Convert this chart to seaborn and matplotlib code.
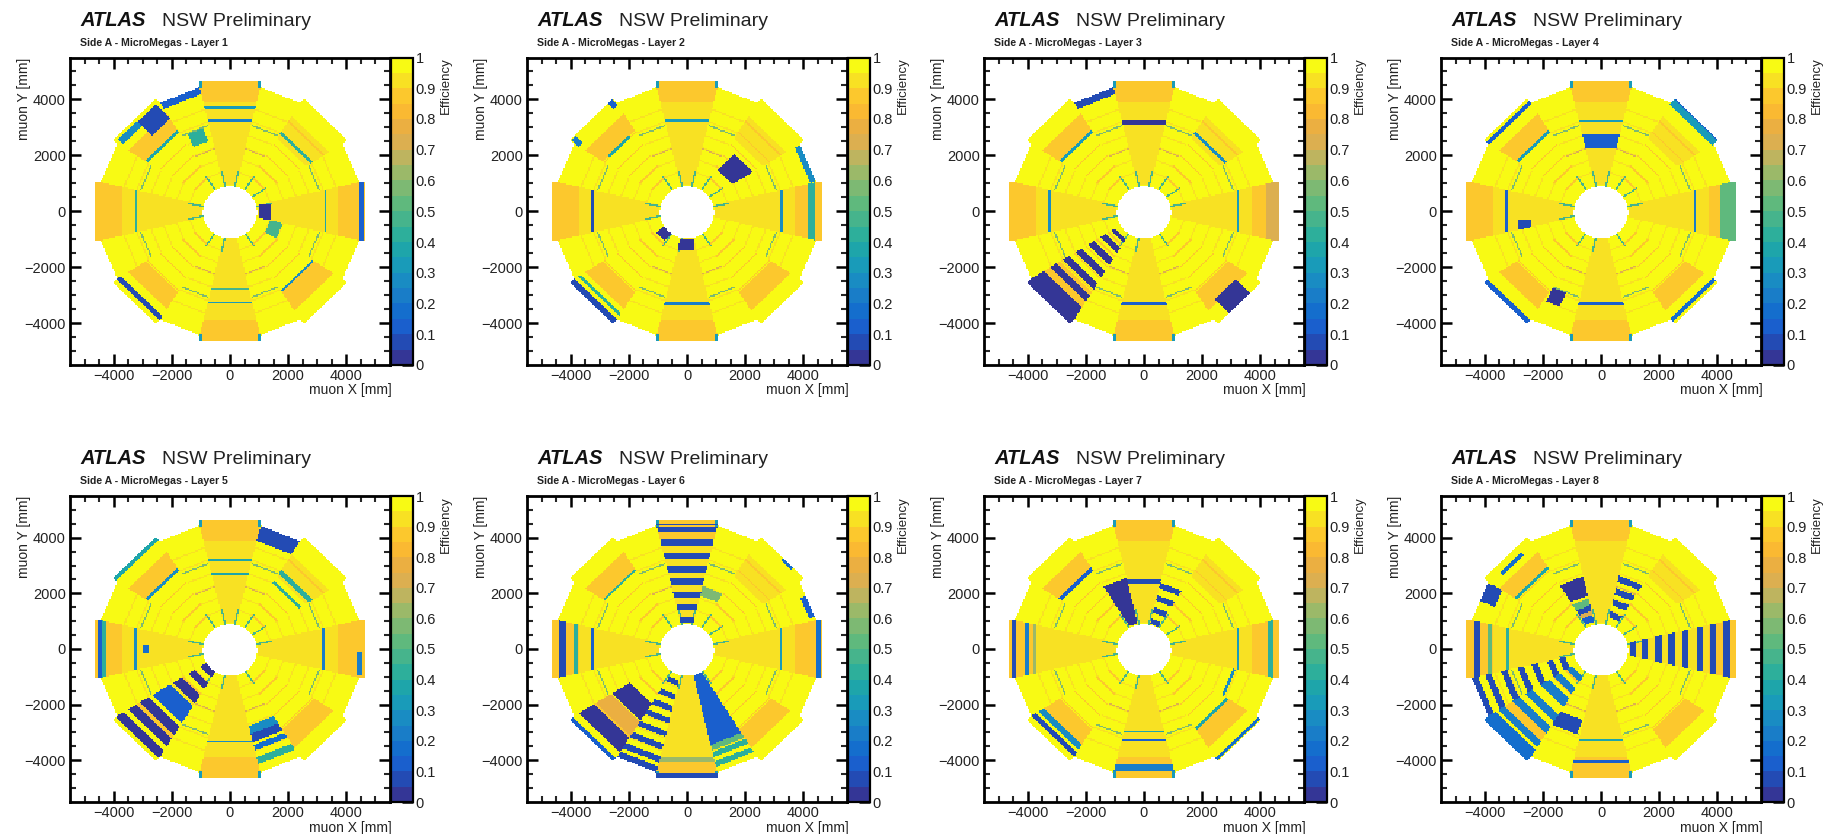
import numpy as np
import matplotlib
matplotlib.use("Agg")
import matplotlib.pyplot as plt
from matplotlib.colors import ListedColormap
from matplotlib.ticker import FixedLocator
import seaborn as sns

# Efficiency, per layer.
# Whole bands: (sector angle, u from, u to, efficiency), u = distance along sector axis in mm
# Patches:     (sector angle, u from, u to, v from, v to, efficiency), v = across the sector in mm
TICK_VALUES = [-4000, -2000, 0, 2000, 4000]
TICK_LABELS = ["\u22124000", "\u22122000", "0", "2000", "4000"]
CBAR_VALUES = [0, 0.1, 0.2, 0.3, 0.4, 0.5, 0.6, 0.7, 0.8, 0.9, 1]
CBAR_LABELS = ["0", "0.1", "0.2", "0.3", "0.4", "0.5", "0.6", "0.7", "0.8", "0.9", "1"]
LAYERS = [1, 2, 3, 4, 5, 6, 7, 8]

PARULA = ["#343696", "#234bb4", "#1a5fcd", "#146ecd", "#197dc8", "#198cc3", "#199bb9", "#1ea5aa",
          "#2daf9b", "#46b48c", "#5fb97d", "#7db973", "#9bb969", "#beb45f", "#dcaf50", "#ebaf41",
          "#fab932", "#fcc82d", "#f8e123", "#f8fa14"]

COMMON_BANDS = [
    (0, 950, 2300, .93), (0, 2300, 3700, .93), (0, 3700, 4650, .87),
    (180, 950, 2300, .93), (180, 2300, 3700, .93), (180, 3700, 4650, .87),
    (90, 950, 3900, .93), (90, 3900, 4650, .88), (270, 950, 3900, .93), (270, 3900, 4650, .88),
    (45, 3000, 3900, .91), (135, 3300, 4000, .88), (225, 3300, 4000, .88), (315, 3300, 4100, .88),
]
COMMON_PATCHES = [
    (22.5, 3100, 3150, -500, 500, .55), (67.5, 3100, 3150, -500, 500, .55), (112.5, 3100, 3150, -500, 500, .55),
    (157.5, 3100, 3150, -500, 500, .55), (202.5, 3100, 3150, -500, 500, .55), (247.5, 3100, 3150, -500, 500, .55),
    (292.5, 3100, 3150, -500, 500, .55), (337.5, 3100, 3150, -500, 500, .55),
    (247.5, 2250, 2290, -400, 400, .7), (292.5, 2250, 2290, -400, 400, .7), (67.5, 2250, 2290, -400, 400, .7),
    (112.5, 2250, 2290, -400, 400, .7),
    (90, 4400, 4650, -1030, -930, .3), (90, 4400, 4650, 930, 1030, .3),
    (270, 4400, 4650, -1030, -930, .3), (270, 4400, 4650, 930, 1030, .3),
]
RING_U = [1400, 1850, 2300, 2750, 3250, 3700]
SPOKE_ANGLES = [11.25, 33.75, 56.25, 78.75, 101.25, 123.75, 168.75, 191.25, 236.25, 258.75, 303.75]

LAYER1_BANDS = [
    (112.5, 4250, 4500, .1), (0, 4450, 4600, .12), (225, 4280, 4480, .08),
    (90, 3200, 3280, .2), (90, 3670, 3730, .3), (270, 3230, 3290, .3), (270, 2730, 2780, .45),
    (180, 3180, 3250, .4), (0, 3230, 3290, .35), (45, 3180, 3260, .4), (135, 3250, 3330, .35),
    (315, 3250, 3320, .25),
]
LAYER1_PATCHES = [
    (135, 3800, 4500, -900, 0, .05), (135, 4300, 4550, 0, 900, .25), (112.5, 2600, 3100, -280, 280, .4),
    (0, 1000, 1400, -330, 250, .03), (337.5, 1400, 1850, -280, 280, .45),
]
LAYER2_BANDS = [
    (180, 3200, 3320, .08), (0, 3180, 3280, .25), (0, 4150, 4400, .4), (90, 3180, 3280, .3),
    (270, 3250, 3330, .2), (225, 4450, 4650, .05), (225, 4200, 4300, .4),
]
LAYER2_PATCHES = [
    (45, 1800, 2600, -700, 300, .03), (270, 1000, 1420, -300, 250, .03), (225, 950, 1300, -200, 200, .03),
    (135, 3250, 3350, -500, 500, .35), (135, 4350, 4650, -1000, -800, .1), (135, 4250, 4600, 800, 1000, .2),
    (22.5, 4300, 4500, -700, 700, .25),
]
LAYER3_BANDS = [
    (225, 1150, 1300, .03), (225, 1500, 1700, .03), (225, 1950, 2200, .03), (225, 2450, 2700, .03),
    (225, 2950, 3200, .03), (225, 3450, 3700, .03), (225, 3950, 4650, .03),
    (90, 3120, 3260, .03), (270, 3240, 3340, .1), (0, 4200, 4650, .72), (0, 3180, 3260, .3),
    (180, 3200, 3280, .25), (45, 3150, 3280, .25), (135, 3250, 3330, .3),
]
LAYER3_PATCHES = [(315, 3950, 4650, -500, 500, .03), (112.5, 4250, 4500, -750, 750, .05)]
LAYER4_BANDS = [
    (90, 2250, 2760, .12), (90, 3180, 3260, .3), (270, 3250, 3340, .1), (45, 4350, 4600, .3), (45, 4600, 4650, .1),
    (135, 4400, 4550, .1), (225, 4480, 4640, .1), (315, 4400, 4550, .15), (0, 4100, 4650, .5),
    (180, 3200, 3320, .1), (0, 3180, 3260, .2), (135, 3250, 3330, .3),
]
LAYER4_PATCHES = [(180, 2400, 2850, 280, 640, .05), (247.5, 3150, 3700, -500, 0, .03)]
LAYER5_BANDS = [
    (225, 950, 1180, .03), (225, 1400, 1640, .03), (225, 1900, 2230, .03), (225, 2350, 3050, .12),
    (225, 3200, 3550, .03), (225, 3700, 4030, .03), (225, 4200, 4500, .03),
    (292.5, 2800, 3100, .25), (292.5, 3100, 3400, .08), (292.5, 3500, 3700, .15), (292.5, 3950, 4200, .4),
    (180, 4400, 4560, .1), (180, 4250, 4400, .4), (135, 3250, 3350, .25), (135, 4500, 4650, .35),
    (45, 3100, 3280, .4), (45, 2700, 2800, .4), (0, 3150, 3250, .2), (180, 3200, 3300, .25),
    (90, 3150, 3230, .35), (90, 2660, 2730, .35), (270, 3300, 3360, .25),
]
LAYER5_PATCHES = [(67.5, 3950, 4500, -850, 700, .07), (0, 4350, 4570, -950, -100, .2), (180, 2800, 3000, -150, 150, .15)]
LAYER6_BANDS = [
    (90, 4430, 4520, .08), (90, 4180, 4400, .05), (90, 3700, 3930, .05), (90, 3240, 3470, .05), (90, 2770, 3000, .05),
    (90, 2320, 2540, .05), (90, 1840, 2060, .05), (90, 1400, 1600, .05), (90, 960, 1170, .05),
    (292.5, 950, 3500, .12), (292.5, 3500, 3700, .5), (292.5, 3750, 3950, .4), (292.5, 4100, 4300, .4),
    (247.5, 1150, 1350, .05), (247.5, 1650, 1850, .05), (247.5, 2080, 2290, .05), (247.5, 2520, 2720, .05),
    (247.5, 3000, 3200, .05), (247.5, 3470, 3680, .05), (247.5, 3920, 4140, .05), (247.5, 4280, 4500, .05),
    (225, 2250, 2950, .03), (225, 3000, 3600, .75), (225, 3650, 4250, .03), (225, 4500, 4650, .12),
    (270, 4450, 4650, .08), (270, 3900, 4050, .6), (180, 4170, 4400, .05), (180, 3750, 3880, .4), (180, 3220, 3290, .1),
    (0, 4430, 4600, .15), (0, 3180, 3240, .3), (135, 3250, 3320, .4), (67.5, 1950, 2300, .55),
]
LAYER6_PATCHES = [(22.5, 4300, 4500, -600, 200, .1), (45, 4550, 4650, -500, 0, .15)]
LAYER7_BANDS = [
    (112.5, 950, 2600, .03), (90, 2350, 2500, .08),
    (67.5, 920, 1110, .05), (67.5, 1330, 1530, .05), (67.5, 1770, 1970, .05), (67.5, 2220, 2420, .05),
    (180, 4390, 4560, .05), (180, 3950, 4120, .2), (180, 3180, 3220, .15), (180, 3700, 3780, .6), (0, 4250, 4430, .4),
    (135, 3250, 3360, .1), (225, 3950, 4150, .25), (225, 4250, 4450, .05), (270, 4170, 4400, .2), (270, 3250, 3320, .1),
    (270, 2950, 3010, .35), (315, 4500, 4630, .15), (315, 3250, 3330, .35), (337.5, 3100, 3200, .25), (0, 3180, 3260, .3),
]
LAYER7_PATCHES = []
LAYER8_BANDS = [
    (0, 1000, 1220, .05), (0, 1400, 1620, .05), (0, 1860, 2080, .05), (0, 2320, 2540, .05), (0, 2780, 3000, .05),
    (0, 3290, 3510, .05), (0, 3750, 3970, .05), (0, 4210, 4430, .05),
    (180, 4150, 4350, .05), (180, 3730, 3880, .5), (180, 3170, 3230, .4),
    (67.5, 1150, 1370, .05), (67.5, 1600, 1820, .05), (67.5, 2000, 2220, .05), (67.5, 2450, 2670, .05),
    (112.5, 1950, 2650, .03), (112.5, 1600, 1850, .5), (112.5, 1400, 1600, .05), (112.5, 1250, 1400, .7), (112.5, 1000, 1250, .1),
    (135, 3300, 3400, .35), (202.5, 1250, 1470, .05), (202.5, 1670, 1890, .05), (202.5, 2210, 2430, .05), (202.5, 2700, 2920, .05),
    (202.5, 3270, 3490, .05), (202.5, 3820, 4040, .05), (202.5, 4290, 4500, .05),
    (225, 1150, 1350, .2), (225, 1600, 1850, .2), (225, 2050, 2400, .2), (225, 2700, 3000, .2), (225, 3200, 3500, .2),
    (225, 3800, 4050, .2), (225, 4150, 4650, .15), (270, 4000, 4090, .12), (270, 3250, 3320, .35),
]
LAYER8_PATCHES = [
    (157.5, 3950, 4500, -700, 0, .05), (135, 4250, 4400, -500, 500, .15), (247.5, 2600, 3150, -500, 400, .08),
]
ALL_BANDS = [LAYER1_BANDS, LAYER2_BANDS, LAYER3_BANDS, LAYER4_BANDS, LAYER5_BANDS, LAYER6_BANDS, LAYER7_BANDS, LAYER8_BANDS]
ALL_PATCHES = [LAYER1_PATCHES, LAYER2_PATCHES, LAYER3_PATCHES, LAYER4_PATCHES, LAYER5_PATCHES, LAYER6_PATCHES, LAYER7_PATCHES, LAYER8_PATCHES]

BIN = 50
LIMIT = 5500
W, H = 1827, 834

sns.set_theme(style="white")
plt.rcParams["font.family"] = ["Liberation Sans", "DejaVu Sans"]
cmap = ListedColormap(PARULA)

# histogram bin centres, first row is the top of the plot
xc = np.arange(-LIMIT + BIN / 2, LIMIT, BIN)
yc = xc[::-1]
X, Y = np.meshgrid(xc, yc)

# which sector every bin is in, small sectors first then the wider large ones on top
sector = np.full(X.shape, -1.0)
U = np.zeros(X.shape)
V = np.zeros(X.shape)
theta = np.degrees(np.arctan2(Y, X)) % 360
nearest = np.round(theta / 22.5) % 16
for k in list(range(1, 16, 2)) + list(range(0, 16, 2)):
    a = np.radians(k * 22.5)
    uk = X * np.cos(a) + Y * np.sin(a)
    vk = -X * np.sin(a) + Y * np.cos(a)
    m = nearest == k
    if k % 2 == 0:
        m = m | ((uk > 0) & (np.abs(vk) <= np.minimum(0.235 * uk, 1030)))
    sector[m] = k * 22.5
    U[m] = uk[m]
    V[m] = vk[m]
large = (sector % 45) == 0
inside = ((large & (U <= 4650)) | (~large & (U <= 4500))) & (np.hypot(X, Y + 40) >= 930)


def layer_map(bands, patches):
    eff = np.full(X.shape, 0.97)
    for angle, lo, hi, value in COMMON_BANDS:
        eff[(sector == angle) & (U >= lo) & (U < hi)] = value
    for ring in RING_U:
        near = np.abs(U - ring) < 25
        eff[near & large] = 0.87
        eff[near & ~large] = 0.93
    for spoke in SPOKE_ANGLES:
        d = np.radians(theta - spoke)
        r = np.hypot(X, Y)
        eff[(np.cos(d) > 0) & (r * np.abs(np.sin(d)) < 30) & (r < 1500)] = 0.45
    for angle, lo, hi, vlo, vhi, value in COMMON_PATCHES + patches:
        eff[(sector == angle) & (U >= lo) & (U < hi) & (V >= vlo) & (V < vhi)] = value
    for angle, lo, hi, value in bands:
        eff[(sector == angle) & (U >= lo) & (U < hi)] = value
    eff[~inside] = np.nan
    return eff


def to_bin(values):
    return (np.asarray(values, dtype=float) + LIMIT) / BIN


fig = plt.figure(figsize=(W / 100, H / 100), dpi=100)

for i, layer in enumerate(LAYERS):
    col = i % 4
    top = 57.5 if i < 4 else 496
    bottom = 365 if i < 4 else 802
    left = 70 + 457 * col
    right = 390 + 457 * col
    ax = fig.add_axes([left / W, 1 - bottom / H, (right - left) / W, (bottom - top) / H])
    cax = fig.add_axes([(right + 1) / W, 1 - bottom / H, 22 / W, (bottom - top) / H])

    eff = layer_map(ALL_BANDS[i], ALL_PATCHES[i])
    sns.heatmap(eff, ax=ax, cbar_ax=cax, cmap=cmap, vmin=0, vmax=1, mask=np.isnan(eff),
                xticklabels=False, yticklabels=False, rasterized=True)

    # main axes, ticks on all four sides pointing in like ROOT does
    ax.xaxis.set_major_locator(FixedLocator(to_bin(TICK_VALUES)))
    ax.yaxis.set_major_locator(FixedLocator(to_bin(TICK_VALUES[::-1])))
    minor = np.arange(-5000, 5001, 500)
    ax.xaxis.set_minor_locator(FixedLocator(to_bin(minor)))
    ax.yaxis.set_minor_locator(FixedLocator(to_bin(minor)))
    ax.set_xticklabels(TICK_LABELS)
    ax.set_yticklabels(TICK_LABELS)
    ax.tick_params(which="major", direction="in", length=8, width=1.8, top=True, right=True, bottom=True, left=True,
                   labelsize=10.5, pad=3, colors="black", labelcolor="#222222")
    ax.tick_params(which="minor", direction="in", length=4, width=1.5, top=True, right=True, bottom=True, left=True)
    plt.setp(ax.get_yticklabels(), rotation=0)
    for s in ax.spines.values():
        s.set_visible(True)
        s.set_linewidth(2)
        s.set_color("black")

    # colour bar
    cbar = ax.collections[0].colorbar
    cbar.set_ticks(CBAR_VALUES)
    cbar.set_ticklabels(CBAR_LABELS)
    cbar.ax.tick_params(direction="in", length=8, width=1.8, right=True, labelsize=10.5, pad=2, labelcolor="#222222", color="black")
    cbar.outline.set_visible(True)
    cbar.outline.set_linewidth(1.6)
    cbar.outline.set_edgecolor("black")

    # texts
    dy = 0 if i < 4 else 438
    tx = 80 + 457 * col
    fig.text(tx / W, 1 - (26 + dy) / H, "ATLAS", fontsize=14.5, fontweight="bold", fontstyle="italic", color="#111111")
    fig.text((tx + 82) / W, 1 - (26 + dy) / H, "NSW Preliminary", fontsize=14, color="#222222")
    fig.text(tx / W, 1 - (46 + dy) / H, f"Side A - MicroMegas - Layer {layer}", fontsize=7.6, fontweight="bold", color="#222222")
    fig.text((right + 2) / W, 1 - (394 + dy) / H, "muon X [mm]", ha="right", fontsize=10, color="#222222")
    fig.text((left - 53) / W, 1 - top / H, "muon Y [mm]", rotation=90, ha="left", va="top", fontsize=10, color="#222222")
    fig.text((right + 50) / W, 1 - top / H, "Efficiency", rotation=90, ha="left", va="top", fontsize=9.5, color="#222222")

plt.savefig("out.png", dpi=100)
